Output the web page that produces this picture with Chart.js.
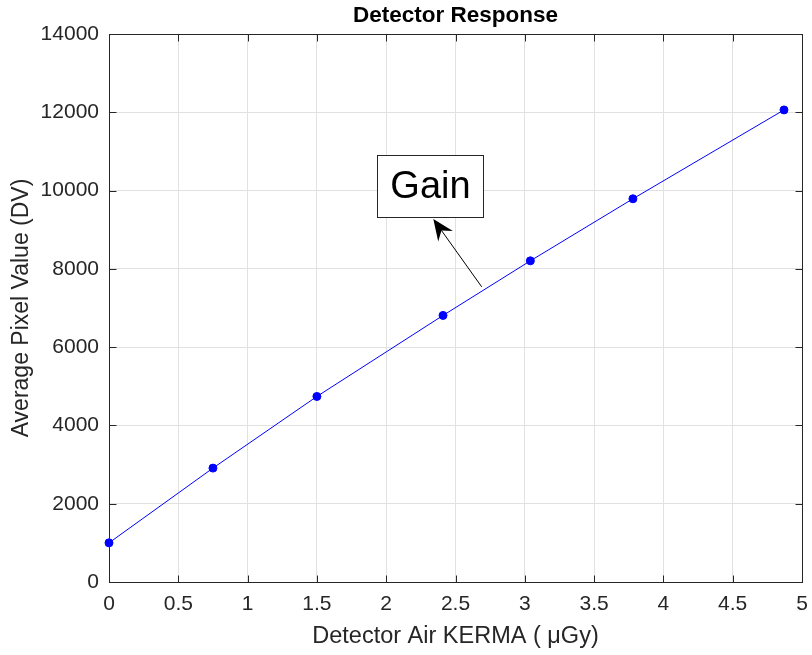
<!DOCTYPE html>
<html>
<head>
<meta charset="utf-8">
<title>Detector Response</title>
<script src="https://cdn.jsdelivr.net/npm/chart.js@4"></script>
<style>
    body { margin: 0; background: #ffffff; }
    canvas { display: block; }
</style>
</head>
<body>
<canvas id="responseChart" width="812" height="655"></canvas>
<script>
// data
const kerma = [0, 0.75, 1.5, 2.41, 3.04, 3.78, 4.87];          // µGy
const pixelValue = [1000, 2910, 4740, 6810, 8205, 9790, 12060]; // DV
const xTickValues = [0, 0.5, 1, 1.5, 2, 2.5, 3, 3.5, 4, 4.5, 5];
const yTickValues = [0, 2000, 4000, 6000, 8000, 10000, 12000, 14000];

const chartTitle = 'Detector Response';
const xAxisTitle = 'Detector Air KERMA ( \u03bcGy)';
const yAxisTitle = 'Average Pixel Value (DV)';
const noteText = 'Gain';

const FONT = '"Liberation Sans", Arial, Helvetica, sans-serif';
const INK = '#262626';
const GRID = '#e1e1e1';
const BLUE = '#0000ff';

// annotation placed in data units
const noteBox = { left: 1.936, right: 2.701, top: 10896, bottom: 9321 };
const noteArrow = { fromX: 2.689, fromY: 7541, toX: 2.34, toY: 9272 };

// ✅ MATLAB-style box, inward ticks, title and text arrow
const matlabAxes = {
    id: 'matlabAxes',
    afterDraw(chart) {
        const ctx = chart.ctx;
        const area = chart.chartArea;
        const xs = chart.scales.x;
        const ys = chart.scales.y;
        const L = Math.round(area.left) + 0.5;
        const R = Math.round(area.right) + 0.5;
        const T = Math.round(area.top) + 0.5;
        const B = Math.round(area.bottom) + 0.5;
        const tick = 7;

        ctx.save();
        ctx.strokeStyle = INK;
        ctx.lineWidth = 1;
        ctx.beginPath();
        xTickValues.forEach(v => {
            const px = Math.round(xs.getPixelForValue(v)) + 0.5;
            ctx.moveTo(px, B); ctx.lineTo(px, B - tick);
            ctx.moveTo(px, T); ctx.lineTo(px, T + tick);
        });
        yTickValues.forEach(v => {
            const py = Math.round(ys.getPixelForValue(v)) + 0.5;
            ctx.moveTo(L, py); ctx.lineTo(L + tick, py);
            ctx.moveTo(R, py); ctx.lineTo(R - tick, py);
        });
        ctx.stroke();
        ctx.strokeRect(L, T, R - L, B - T);

        // title centred over the plot
        ctx.fillStyle = '#000000';
        ctx.font = 'bold 22.5px ' + FONT;
        ctx.textAlign = 'center';
        ctx.textBaseline = 'middle';
        ctx.fillText(chartTitle, (area.left + area.right) / 2, 16);

        // arrow
        const x1 = xs.getPixelForValue(noteArrow.fromX);
        const y1 = ys.getPixelForValue(noteArrow.fromY);
        const x2 = xs.getPixelForValue(noteArrow.toX);
        const y2 = ys.getPixelForValue(noteArrow.toY);
        const len = Math.hypot(x2 - x1, y2 - y1);
        const ux = (x2 - x1) / len, uy = (y2 - y1) / len;
        const nx = -uy, ny = ux;
        const headLen = 21, headHalf = 9, notch = 14;
        ctx.strokeStyle = '#000000';
        ctx.beginPath();
        ctx.moveTo(x1, y1);
        ctx.lineTo(x2 - ux * notch, y2 - uy * notch);
        ctx.stroke();
        ctx.fillStyle = '#000000';
        ctx.beginPath();
        ctx.moveTo(x2, y2);
        ctx.lineTo(x2 - ux * headLen + nx * headHalf, y2 - uy * headLen + ny * headHalf);
        ctx.lineTo(x2 - ux * notch, y2 - uy * notch);
        ctx.lineTo(x2 - ux * headLen - nx * headHalf, y2 - uy * headLen - ny * headHalf);
        ctx.closePath();
        ctx.fill();

        // text box
        const bl = Math.round(xs.getPixelForValue(noteBox.left)) + 0.5;
        const br = Math.round(xs.getPixelForValue(noteBox.right)) + 0.5;
        const bt = Math.round(ys.getPixelForValue(noteBox.top)) + 0.5;
        const bb = Math.round(ys.getPixelForValue(noteBox.bottom)) + 0.5;
        ctx.fillStyle = '#ffffff';
        ctx.fillRect(bl, bt, br - bl, bb - bt);
        ctx.strokeStyle = INK;
        ctx.strokeRect(bl, bt, br - bl, bb - bt);
        ctx.fillStyle = '#000000';
        ctx.font = '38px ' + FONT;
        ctx.textAlign = 'center';
        ctx.textBaseline = 'middle';
        ctx.fillText(noteText, (bl + br) / 2, (bt + bb) / 2 + 1);
        ctx.restore();
    }
};

const ctx = document.getElementById('responseChart').getContext('2d');
window.responseChart = new Chart(ctx, {
    type: 'line',
    data: {
        datasets: [{
            label: 'Detector response',
            data: kerma.map((k, i) => ({ x: k, y: pixelValue[i] })),
            borderColor: BLUE,
            backgroundColor: BLUE,
            borderWidth: 1,
            pointRadius: 4,
            pointBorderWidth: 1,
            pointBackgroundColor: BLUE,
            pointBorderColor: BLUE,
            tension: 0,
            fill: false,
            clip: false
        }]
    },
    options: {
        responsive: false,
        maintainAspectRatio: false,
        devicePixelRatio: 1,
        animation: false,
        layout: {
            padding: { top: 34, right: 10, left: 0, bottom: 0 }
        },
        plugins: {
            legend: { display: false },
            tooltip: { enabled: false },
            title: { display: false }
        },
        scales: {
            x: {
                type: 'linear',
                min: 0,
                max: 5,
                afterBuildTicks: scale => { scale.ticks = xTickValues.map(v => ({ value: v })); },
                afterFit: scale => {
                    scale.height = 73;
                    scale.paddingLeft = 0;
                    scale.paddingRight = 0;
                },
                grid: { color: GRID, lineWidth: 1, drawTicks: false },
                border: { display: false },
                ticks: {
                    padding: 10,
                    color: INK,
                    font: { family: FONT, size: 21 },
                    maxRotation: 0,
                    autoSkip: false,
                    callback: value => String(value)
                },
                title: {
                    display: true,
                    text: xAxisTitle,
                    color: INK,
                    font: { family: FONT, size: 23.5 },
                    padding: { top: 0, bottom: 4 }
                }
            },
            y: {
                type: 'linear',
                min: 0,
                max: 14000,
                afterBuildTicks: scale => { scale.ticks = yTickValues.map(v => ({ value: v })); },
                afterFit: scale => {
                    scale.width = 109;
                    scale.paddingTop = 0;
                    scale.paddingBottom = 0;
                },
                grid: { color: GRID, lineWidth: 1, drawTicks: false },
                border: { display: false },
                ticks: {
                    padding: 10,
                    color: INK,
                    font: { family: FONT, size: 21 },
                    autoSkip: false,
                    callback: value => String(value)
                },
                title: {
                    display: true,
                    text: yAxisTitle,
                    color: INK,
                    font: { family: FONT, size: 23 },
                    padding: { top: 8, bottom: 0 }
                }
            }
        }
    },
    plugins: [matlabAxes]
});
</script>
</body>
</html>
